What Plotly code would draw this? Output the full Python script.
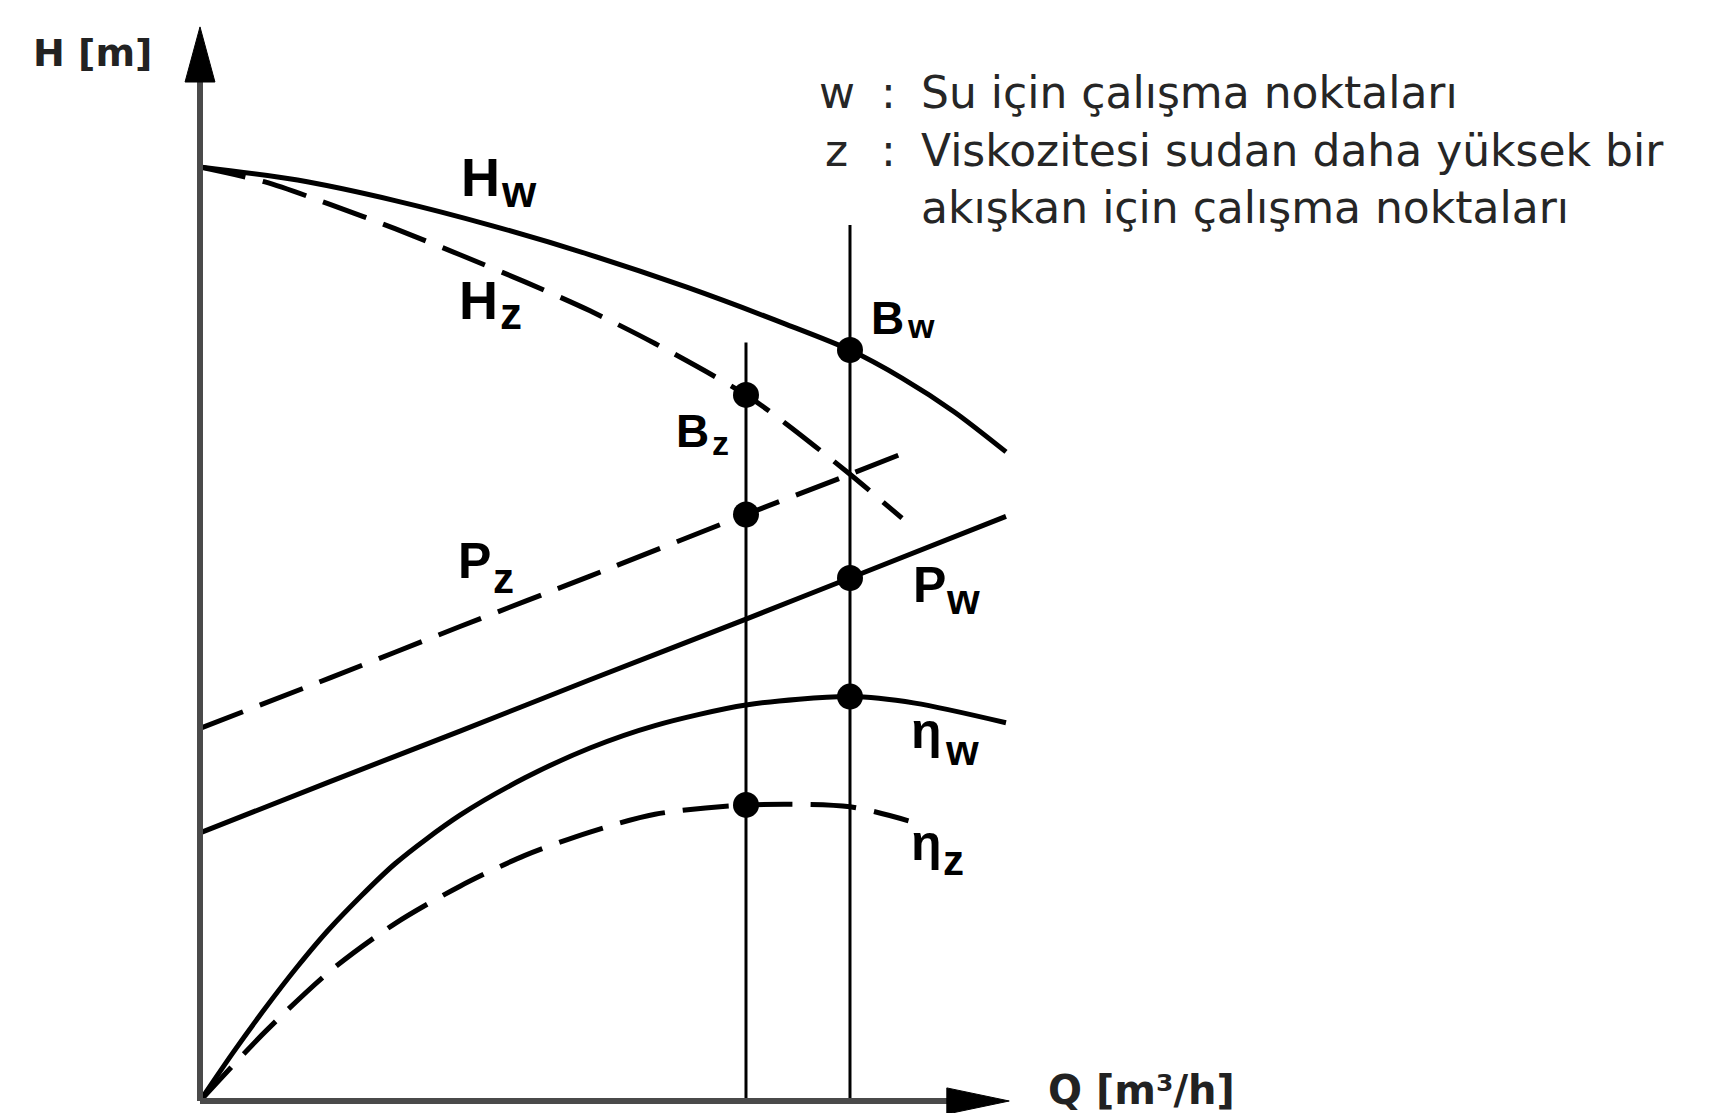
import plotly.graph_objects as go

# ---- pump characteristic curves (Q in m³/h, arbitrary H / P / η units) ----
q_hw = [0, 15, 30, 45, 60, 75, 90, 100, 108, 116, 124]
h_w = [100.0, 98.6, 96.4, 93.7, 90.6, 87.1, 83.2, 80.4, 77.4, 73.8, 69.5]

q_hz = [0, 10, 20, 30, 40, 50, 60, 70, 84, 90, 100, 108]
h_z = [100.0, 98.4, 96.0, 93.4, 90.6, 87.7, 84.6, 81.1, 75.6, 72.6, 67.1, 62.4]

q_pz = [0, 20, 40, 60, 84, 100, 108]
p_z = [39.9, 45.3, 50.8, 56.2, 62.8, 67.1, 69.3]

q_pw = [0, 20, 40, 60, 84, 100, 124]
p_w = [28.7, 34.2, 39.6, 45.1, 51.6, 56.0, 62.6]

q_ew = [0, 5, 10, 15, 20, 30, 40, 50, 60, 70, 84, 100, 110, 124]
eta_w = [0, 5.1, 9.9, 14.4, 18.5, 25.4, 30.6, 34.6, 37.8, 40.2, 42.4, 43.3, 42.6, 40.5]

q_ez = [0, 10, 20, 30, 40, 50, 60, 70, 84, 100, 109]
eta_z = [0, 7.4, 13.9, 19.0, 23.0, 26.3, 28.8, 30.7, 31.7, 31.5, 30.0]

# operating points: water (w) and the more viscous fluid (z)
q_op_w = 100
q_op_z = 84
op_line_top_w = 93.8
op_line_top_z = 81.2

# axis extents (arrow tips)
q_axis_end = 124.5
h_axis_end = 115.0

legend_lines = [
    ("w", "Su için çalışma noktaları"),
    ("z", "Viskozitesi sudan daha yüksek bir"),
    ("", "akışkan için çalışma noktaları"),
]

DASH = "46px,18px"
LW = 5


def value_at(qs, vs, q):
    return vs[qs.index(q)]


fig = go.Figure()


def curve(q, v, dashed):
    fig.add_trace(go.Scatter(
        x=q, y=v, mode="lines",
        line=dict(color="black", width=LW, shape="spline", smoothing=0.8,
                  dash=DASH if dashed else "solid"),
        hoverinfo="skip"))


curve(q_hw, h_w, False)
curve(q_hz, h_z, True)
curve(q_pz, p_z, True)
curve(q_pw, p_w, False)
curve(q_ew, eta_w, False)
curve(q_ez, eta_z, True)

# vertical operating-point lines
for q0, top in ((q_op_z, op_line_top_z), (q_op_w, op_line_top_w)):
    fig.add_trace(go.Scatter(x=[q0, q0], y=[0, top], mode="lines",
                             line=dict(color="black", width=3), hoverinfo="skip"))

# operating point markers
pts_q = [q_op_w] * 3 + [q_op_z] * 3
pts_v = [value_at(q_hw, h_w, q_op_w), value_at(q_pw, p_w, q_op_w), value_at(q_ew, eta_w, q_op_w),
         value_at(q_hz, h_z, q_op_z), value_at(q_pz, p_z, q_op_z), value_at(q_ez, eta_z, q_op_z)]
fig.add_trace(go.Scatter(x=pts_q, y=pts_v, mode="markers",
                         marker=dict(color="black", size=26), hoverinfo="skip"))

# axes with arrow heads
axis_col = "#4a4a4a"
shapes = [
    dict(type="line", xref="x", yref="y", x0=0, y0=0, x1=0, y1=h_axis_end - 4,
         line=dict(color=axis_col, width=6)),
    dict(type="line", xref="x", yref="y", x0=0, y0=0, x1=q_axis_end - 6, y1=0,
         line=dict(color=axis_col, width=6)),
    dict(type="path", xref="x", yref="y",
         path=f"M -2.3,{h_axis_end - 5.9} L 0,{h_axis_end} L 2.3,{h_axis_end - 5.9} Z",
         fillcolor="black", line=dict(color="black", width=1)),
    dict(type="path", xref="x", yref="y",
         path=f"M {q_axis_end - 9.6},-1.4 L {q_axis_end},0 L {q_axis_end - 9.6},1.4 Z",
         fillcolor="black", line=dict(color="black", width=1)),
]

ann = []
LBL = "Liberation Sans, Arial, sans-serif"


def label(main, sub, xm, ym, xs, ys, size_m, size_s):
    ann.append(dict(x=xm, y=ym, text=main, showarrow=False, xanchor="center", yanchor="middle",
                    borderpad=0,
                    font=dict(family=LBL, size=size_m, color="black", weight="bold")))
    ann.append(dict(x=xs, y=ys, text=sub, showarrow=False, xanchor="center", yanchor="middle",
                    borderpad=0,
                    font=dict(family=LBL, size=size_s, color="black", weight="bold")))


label("H", "w", 43.1, 98.9, 49.0, 97.4, 54, 44)
label("H", "z", 42.8, 85.8, 47.8, 84.3, 54, 44)
label("B", "w", 105.8, 83.8, 110.9, 83.0, 46, 34)
label("B", "z", 75.8, 71.7, 80.1, 70.4, 46, 34)
label("P", "z", 42.2, 57.8, 46.7, 55.9, 50, 42)
label("P", "w", 112.2, 55.2, 117.4, 53.7, 50, 42)
label("η", "w", 111.8, 39.6, 117.2, 37.5, 50, 42)
label("η", "z", 111.8, 27.6, 116.0, 25.7, 50, 42)

# axis titles
AX = "DejaVu Sans, sans-serif"
ann.append(dict(x=-16.6, y=112.2, text="H [m]", showarrow=False, xanchor="center", yanchor="middle",
                font=dict(family=AX, size=38, color="#222", weight="bold")))
ann.append(dict(x=144.9, y=1.2, text="Q [m³/h]", showarrow=False, xanchor="center", yanchor="middle",
                font=dict(family=AX, size=40, color="#222", weight="bold")))

# key text
key_y = [108.0, 101.8, 95.7]
for (sym, txt), yk in zip(legend_lines, key_y):
    if sym:
        ann.append(dict(x=98.0, y=yk, text=sym, showarrow=False, xanchor="center", yanchor="middle",
                        font=dict(family=AX, size=44, color="#262626")))
        ann.append(dict(x=106.0, y=yk, text=":", showarrow=False, xanchor="center", yanchor="middle",
                        font=dict(family=AX, size=44, color="#262626")))
    ann.append(dict(x=110.6, y=yk, text=txt, showarrow=False, xanchor="left", yanchor="middle",
                    font=dict(family=AX, size=44, color="#262626")))

fig.update_layout(
    width=1720, height=1113,
    margin=dict(l=0, r=0, t=0, b=0),
    paper_bgcolor="white", plot_bgcolor="white",
    showlegend=False,
    xaxis=dict(range=[-30.77, 233.85], visible=False, fixedrange=True),
    yaxis=dict(range=[-1.285, 117.88], visible=False, fixedrange=True),
    shapes=shapes,
    annotations=ann,
)

fig.write_html("out.html", config={"displayModeBar": False})
